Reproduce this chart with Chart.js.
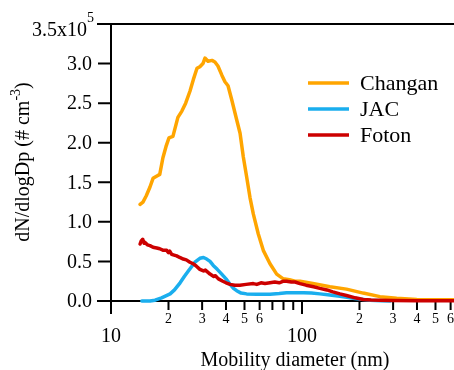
<!DOCTYPE html>
<html>
<head>
<meta charset="utf-8">
<script src="https://cdn.jsdelivr.net/npm/chart.js@4.4.1/dist/chart.umd.min.js"></script>
<style>
  html, body { margin: 0; padding: 0; background: #fff; }
  #wrap { width: 454px; height: 370px; }
</style>
</head>
<body>
<div id="wrap"><canvas id="sizeChart" width="454" height="370"></canvas></div>
<script>
// mobility diameter (nm) and dN/dlogDp (x10^5 # cm^-3)
const changanDp = [14.2, 14.7, 15.3, 16.0, 16.6, 17.4, 18.0, 18.7, 19.4, 20.1, 21.1, 22.4, 23.5, 24.6, 25.9, 27.0, 28.2, 29.2, 30.3, 31.05, 32.2, 33.8, 35.0, 36.3, 38.1, 39.5, 41.0, 42.9, 45.5, 47.4, 49.3, 51.3, 53.4, 55.6, 59.0, 62.7, 68.0, 73.7, 79.8, 86, 91.9, 97.6, 114, 140, 171, 209, 256, 313, 399, 500, 625];
const changanN = [1.22, 1.25, 1.33, 1.44, 1.55, 1.58, 1.60, 1.81, 1.95, 2.06, 2.08, 2.32, 2.40, 2.50, 2.65, 2.80, 2.94, 2.96, 3.00, 3.07, 3.03, 3.04, 3.02, 2.97, 2.85, 2.77, 2.72, 2.54, 2.29, 2.12, 1.82, 1.57, 1.31, 1.10, 0.85, 0.64, 0.47, 0.34, 0.28, 0.27, 0.25, 0.25, 0.22, 0.18, 0.15, 0.10, 0.055, 0.035, 0.02, 0.015, 0.015];

const jacDp = [14.5, 16.0, 17.0, 18.4, 20.4, 21.5, 23.0, 24.2, 25.4, 27.5, 29.2, 30.5, 31.7, 33.0, 34.3, 36.0, 38.0, 40.0, 42.0, 43.8, 45.5, 48.0, 51.3, 58, 68, 76, 83, 92, 102, 112, 124, 140, 158, 175, 189, 210, 227, 260, 290];
const jacN = [0.0, 0.0, 0.01, 0.04, 0.09, 0.14, 0.23, 0.31, 0.38, 0.49, 0.54, 0.55, 0.53, 0.50, 0.45, 0.40, 0.34, 0.28, 0.21, 0.16, 0.13, 0.10, 0.09, 0.085, 0.085, 0.095, 0.105, 0.105, 0.105, 0.10, 0.09, 0.075, 0.06, 0.045, 0.03, 0.018, 0.01, 0.003, 0.0];

const fotonDp = [14.2, 14.4, 14.66, 14.9, 15.07, 15.5, 16.0, 16.6, 17.35, 18.0, 18.8, 19.57, 20.0, 20.3, 20.78, 21.4, 22.08, 22.9, 23.9, 24.8, 25.9, 27.0, 28.0, 29.2, 30.5, 31.2, 33.0, 34.5, 35.2, 36.5, 38.5, 40.0, 42.0, 44.5, 47.3, 51, 55.6, 58, 61, 64, 68, 72, 76, 80, 83, 88, 92, 97.6, 105, 115, 124, 135, 145, 158, 171, 190, 209, 230, 256, 300, 400, 625];
const fotonN = [0.72, 0.76, 0.78, 0.73, 0.74, 0.71, 0.70, 0.68, 0.67, 0.66, 0.64, 0.64, 0.61, 0.63, 0.59, 0.58, 0.57, 0.55, 0.53, 0.52, 0.49, 0.47, 0.44, 0.40, 0.38, 0.39, 0.34, 0.31, 0.32, 0.28, 0.25, 0.23, 0.21, 0.20, 0.20, 0.21, 0.22, 0.21, 0.23, 0.22, 0.23, 0.24, 0.23, 0.25, 0.25, 0.24, 0.24, 0.22, 0.20, 0.18, 0.16, 0.14, 0.115, 0.09, 0.07, 0.04, 0.02, 0.012, 0.008, 0.005, 0.004, 0.004];

const seriesNames = ["Changan", "JAC", "Foton"];
const seriesColors = ["#FFA500", "#1AAEEE", "#CC0000"];

const yTicks = [0, 0.5, 1.0, 1.5, 2.0, 2.5, 3.0, 3.5];
const yTickLabels = ["0.0", "0.5", "1.0", "1.5", "2.0", "2.5", "3.0", "3.5x10"];
const xMajorTicks = [10, 100];
const xMajorLabels = ["10", "100"];
const xMinorTicks = [20, 30, 40, 50, 60, 70, 80, 90, 200, 300, 400, 500, 600];
const xMinorLabeled = [20, 30, 40, 50, 60, 200, 300, 400, 500, 600];

const xMin = 10, xMax = 625, yMin = 0, yMax = 3.5;
const FONT = '"Liberation Serif", "Times New Roman", serif';

function toPoints(dp, n) {
  return dp.map((d, i) => ({ x: d, y: n[i] }));
}

const igorAxes = {
  id: "igorAxes",
  beforeDatasetsDraw(chart) {
    const ctx = chart.ctx;
    const xs = chart.scales.x, ys = chart.scales.y;
    const right = chart.chartArea.right;
    const x0 = xs.getPixelForValue(xMin);
    const y0 = ys.getPixelForValue(yMin);
    const yTop = ys.getPixelForValue(yMax);

    ctx.save();
    ctx.strokeStyle = "#000";
    ctx.lineWidth = 2;
    ctx.beginPath();
    ctx.moveTo(x0, yTop); ctx.lineTo(x0, y0 + 13);
    ctx.moveTo(x0 - 14, y0); ctx.lineTo(right, y0);
    ctx.moveTo(x0 - 14, yTop); ctx.lineTo(right, yTop);
    yTicks.forEach(v => {
      const y = ys.getPixelForValue(v);
      ctx.moveTo(x0 - 13, y); ctx.lineTo(x0, y);
    });
    xMajorTicks.forEach(v => {
      const x = xs.getPixelForValue(v);
      ctx.moveTo(x, y0); ctx.lineTo(x, y0 + 13);
    });
    xMinorTicks.forEach(v => {
      const x = xs.getPixelForValue(v);
      ctx.moveTo(x, y0); ctx.lineTo(x, y0 + 9);
    });
    ctx.stroke();

    ctx.fillStyle = "#000";
    // y tick labels
    ctx.font = "20px " + FONT;
    ctx.textAlign = "right";
    ctx.textBaseline = "middle";
    yTicks.forEach((v, i) => {
      const y = ys.getPixelForValue(v);
      if (v === yMax) {
        ctx.fillText(yTickLabels[i], 87, y + 7);
        ctx.font = "14px " + FONT;
        ctx.textAlign = "left";
        ctx.fillText("5", 87, y - 6);
        ctx.font = "20px " + FONT;
        ctx.textAlign = "right";
      } else {
        ctx.fillText(yTickLabels[i], 92, y + 1);
      }
    });

    // x tick labels
    ctx.textAlign = "center";
    ctx.font = "14px " + FONT;
    xMinorLabeled.forEach(v => {
      const x = xs.getPixelForValue(v);
      const d = String(v)[0];
      ctx.fillText(d, x, y0 + 18);
    });
    ctx.font = "20px " + FONT;
    xMajorTicks.forEach((v, i) => {
      ctx.fillText(xMajorLabels[i], xs.getPixelForValue(v), y0 + 36);
    });

    // axis titles
    ctx.fillText("Mobility diameter (nm)", 295, 361);

    ctx.save();
    ctx.translate(24, 162);
    ctx.rotate(-Math.PI / 2);
    const main = "dN/dlogDp (# cm";
    ctx.font = "20px " + FONT;
    const w1 = ctx.measureText(main).width;
    const w3 = ctx.measureText(")").width;
    ctx.font = "14px " + FONT;
    const w2 = ctx.measureText("-3").width;
    let sx = -(w1 + w2 + w3) / 2;
    ctx.textAlign = "left";
    ctx.font = "20px " + FONT;
    ctx.fillText(main, sx, 0);
    sx += w1;
    ctx.font = "14px " + FONT;
    ctx.fillText("-3", sx, -8);
    sx += w2;
    ctx.font = "20px " + FONT;
    ctx.fillText(")", sx, 0);
    ctx.restore();

    ctx.restore();
  },
  afterDatasetsDraw(chart) {
    const ctx = chart.ctx;
    const rows = [83, 109, 135];
    ctx.save();
    ctx.lineWidth = 3.5;
    ctx.font = "22px " + FONT;
    ctx.textAlign = "left";
    ctx.textBaseline = "middle";
    seriesNames.forEach((name, i) => {
      ctx.strokeStyle = seriesColors[i];
      ctx.beginPath();
      ctx.moveTo(308, rows[i]);
      ctx.lineTo(349, rows[i]);
      ctx.stroke();
      ctx.fillStyle = "#000";
      ctx.fillText(name, 360, rows[i] + 1);
    });
    ctx.restore();
  }
};

const ctx = document.getElementById("sizeChart").getContext("2d");
new Chart(ctx, {
  type: "line",
  data: {
    datasets: [
      { label: seriesNames[0], data: toPoints(changanDp, changanN), borderColor: seriesColors[0], order: 1 },
      { label: seriesNames[1], data: toPoints(jacDp, jacN), borderColor: seriesColors[1], order: 2 },
      { label: seriesNames[2], data: toPoints(fotonDp, fotonN), borderColor: seriesColors[2], order: 0 }
    ]
  },
  options: {
    responsive: false,
    animation: false,
    devicePixelRatio: 1,
    layout: { padding: { left: 111, right: 0, top: 24, bottom: 69 } },
    elements: {
      line: { borderWidth: 3.5, tension: 0, fill: false, borderJoinStyle: "round", borderCapStyle: "round" },
      point: { radius: 0 }
    },
    datasets: { line: { clip: false } },
    scales: {
      x: { type: "logarithmic", min: xMin, max: xMax, display: false },
      y: { type: "linear", min: yMin, max: yMax, display: false }
    },
    plugins: { legend: { display: false }, tooltip: { enabled: false } }
  },
  plugins: [igorAxes]
});
</script>
</body>
</html>
